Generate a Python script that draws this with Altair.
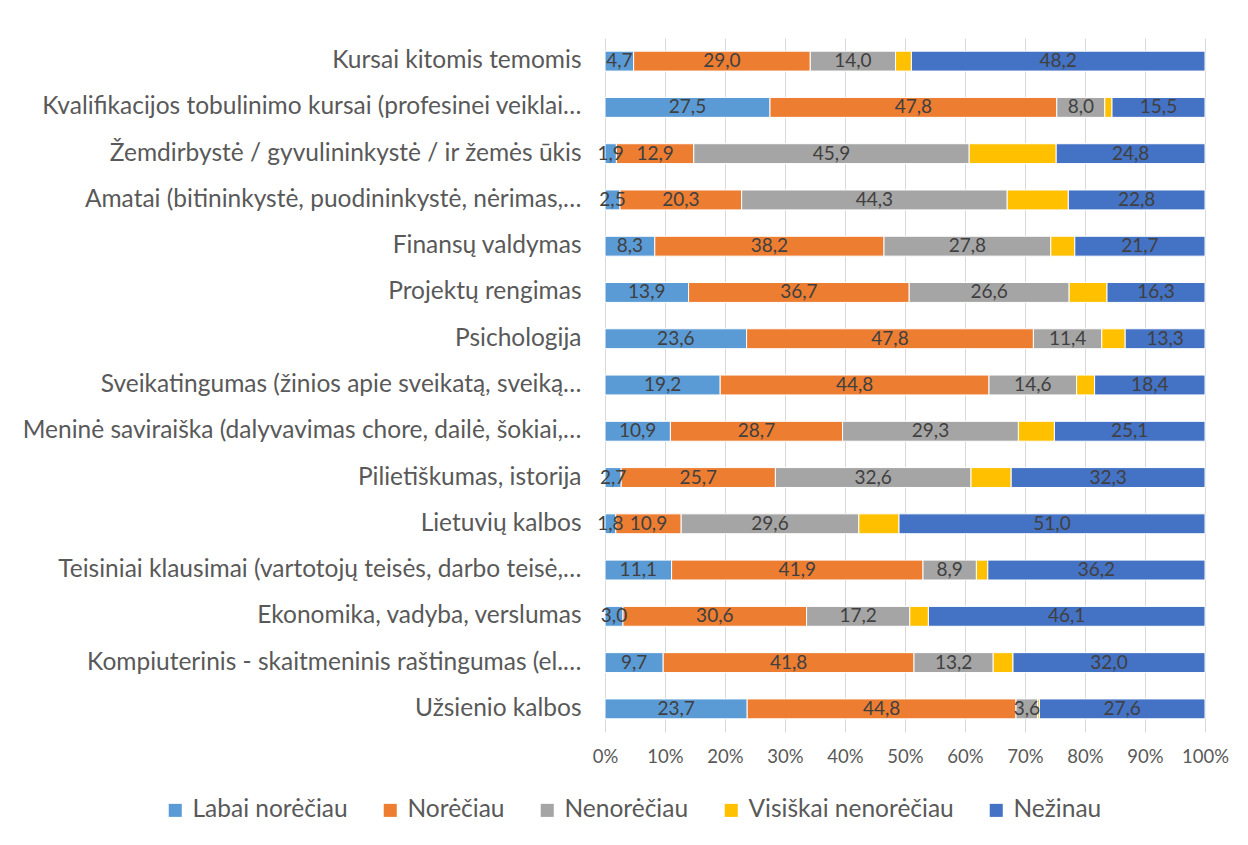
import altair as alt
import pandas as pd

categories = [
    "Kursai kitomis temomis",
    "Kvalifikacijos tobulinimo kursai (profesinei veiklai…",
    "Žemdirbystė / gyvulininkystė / ir žemės ūkis",
    "Amatai (bitininkystė, puodininkystė, nėrimas,…",
    "Finansų valdymas",
    "Projektų rengimas",
    "Psichologija",
    "Sveikatingumas (žinios apie sveikatą, sveiką…",
    "Meninė saviraiška (dalyvavimas chore, dailė, šokiai,…",
    "Pilietiškumas, istorija",
    "Lietuvių kalbos",
    "Teisiniai klausimai (vartotojų teisės, darbo teisė,…",
    "Ekonomika, vadyba, verslumas",
    "Kompiuterinis - skaitmeninis raštingumas (el.…",
    "Užsienio kalbos",
]
series = ["Labai norėčiau", "Norėčiau", "Nenorėčiau", "Visiškai nenorėčiau", "Nežinau"]
colors = ["#5B9BD5", "#ED7D31", "#A5A5A5", "#FFC000", "#4472C4"]

labai = [4.7, 27.5, 1.9, 2.5, 8.3, 13.9, 23.6, 19.2, 10.9, 2.7, 1.8, 11.1, 3.0, 9.7, 23.7]
nore = [29.0, 47.8, 12.9, 20.3, 38.2, 36.7, 47.8, 44.8, 28.7, 25.7, 10.9, 41.9, 30.6, 41.8, 44.8]
nenore = [14.0, 8.0, 45.9, 44.3, 27.8, 26.6, 11.4, 14.6, 29.3, 32.6, 29.6, 8.9, 17.2, 13.2, 3.6]
visiskai = [2.6, 1.2, 14.5, 10.2, 4.0, 6.3, 3.9, 3.0, 6.0, 6.7, 6.7, 1.9, 3.1, 3.3, 0.3]
nezinau = [48.2, 15.5, 24.8, 22.8, 21.7, 16.3, 13.3, 18.4, 25.1, 32.3, 51.0, 36.2, 46.1, 32.0, 27.6]
tick_values = [0, 0.1, 0.2, 0.3, 0.4, 0.5, 0.6, 0.7, 0.8, 0.9, 1.0]

rows = []
for i, c in enumerate(categories):
    for j, (s, vals) in enumerate(zip(series, [labai, nore, nenore, visiskai, nezinau])):
        rows.append({"cat": c, "series": s, "order": j, "value": vals[i], "show": j != 3})
df = pd.DataFrame(rows)

base = alt.Chart(df).transform_joinaggregate(
    total="sum(value)", groupby=["cat"]
).transform_window(
    cum="sum(value)", sort=[alt.SortField("order")], groupby=["cat"], frame=[None, 0]
).transform_calculate(
    start="(datum.cum - datum.value) / datum.total",
    end="datum.cum / datum.total",
    mid="(datum.cum - datum.value / 2) / datum.total",
    label="replace(format(datum.value, '.1f'), '.', ',')",
)

yenc = alt.Y(
    "cat:N",
    sort=categories,
    title=None,
    scale=alt.Scale(paddingInner=0.57, paddingOuter=0.285),
    axis=alt.Axis(
        domain=False, ticks=False, labelFontSize=24.5, labelColor="#595959",
        labelFont="Lato", labelLimit=700, labelPadding=24,
    ),
)

bars = base.mark_bar(stroke="white", strokeWidth=1).encode(
    x=alt.X(
        "start:Q",
        scale=alt.Scale(domain=[0, 1]),
        title=None,
        axis=alt.Axis(
            format=".0%", values=tick_values, domain=False, ticks=False,
            grid=True, gridColor="#D9D9D9", gridWidth=1, labelFontSize=18.5,
            labelColor="#595959", labelFont="Lato", labelPadding=15,
            labelOverlap=False, labelFlush=False,
        ),
    ),
    x2="end:Q",
    y=yenc,
    color=alt.Color(
        "series:N",
        sort=series,
        scale=alt.Scale(domain=series, range=colors),
        legend=alt.Legend(
            title=None, orient="none", direction="horizontal", legendX=-442, legendY=760,
            symbolType="square", symbolSize=170, symbolStrokeWidth=0, labelFontSize=24.5,
            labelColor="#595959", labelFont="Lato", columnPadding=30, labelOffset=5,
            labelLimit=400,
        ),
    ),
)

texts = base.transform_filter("datum.show").mark_text(
    fontSize=19, color="#404040", font="Lato", align="center", baseline="middle"
).encode(
    x="mid:Q",
    y=alt.Y("cat:N", sort=categories),
    text="label:N",
)

chart = alt.layer(bars, texts).properties(
    width=600,
    height=694,
    autosize=alt.AutoSizeParams(type="none"),
    padding={"left": 597, "top": 30, "right": 30, "bottom": 90},
).configure_view(stroke=None)

chart.save("out.html", embed_options={"renderer": "svg", "actions": False})
